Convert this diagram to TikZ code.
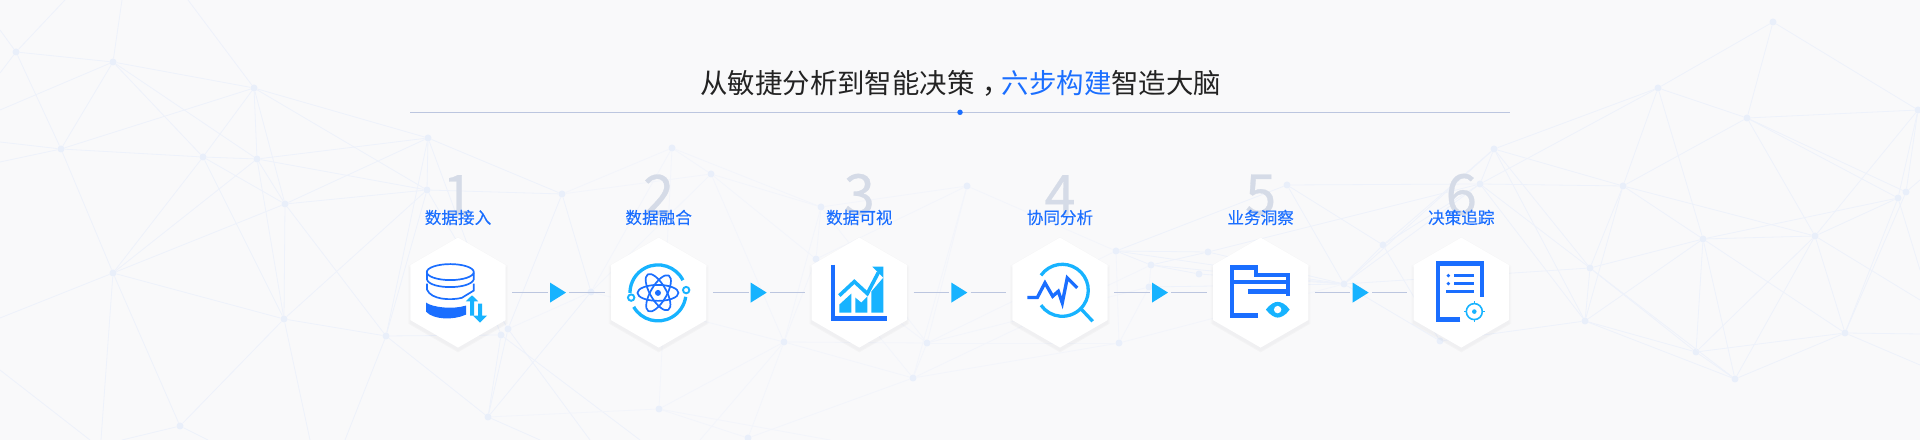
\documentclass[tikz,border=0pt]{standalone}
\usepackage{fontspec}
\usepackage{xcolor}
\usepackage{tikz}
\usetikzlibrary{positioning,shapes.geometric,shadows,calc}
\setmainfont{Noto Sans CJK SC}
\newfontfamily\numfont[FakeBold=.5]{Noto Sans CJK SC}
\newfontfamily\lblfont[FakeBold=.12]{Noto Sans CJK SC}
\definecolor{paper}{HTML}{F9F9FA}
\definecolor{deep}{HTML}{1A6EFF}
\definecolor{sky}{HTML}{17B3FF}
\definecolor{ink}{HTML}{232323}
\definecolor{rule}{HTML}{BCC6DF}
\definecolor{numc}{HTML}{D5DBE7}
\definecolor{webc}{HTML}{EEF2FB}
\definecolor{webp}{HTML}{F3F5FA}
\definecolor{dotc}{HTML}{E9EFFA}
\tikzset{
  hexbox/.style={regular polygon, regular polygon sides=6, shape border rotate=30, minimum size=110bp, inner sep=0bp, fill=white,
    general shadow={fill=black!70!blue, opacity=.012, shadow yshift=-2bp, shadow scale=1.05},
    general shadow={fill=black!70!blue, opacity=.012, shadow yshift=-3bp, shadow scale=1.03},
    general shadow={fill=black!70!blue, opacity=.012, shadow yshift=-3bp, shadow scale=1.01}},
  tri/.style={isosceles triangle, isosceles triangle apex angle=64, isosceles triangle stretches, minimum width=20bp, minimum height=16bp, inner sep=0bp, fill=sky},
  conn/.style={draw=rule, line width=1.8bp},
  stepnum/.style={font=\numfont\fontsize{56bp}{56bp}\selectfont, text=numc, inner sep=0bp},
  steplbl/.style={font=\lblfont\fontsize{16.6bp}{18bp}\selectfont, text=deep, inner sep=0bp},
  dot/.style={circle, fill=dotc, minimum size=7bp, inner sep=0bp},
  web/.style={draw=webc, line width=.8bp},
  webq/.style={draw=webp, line width=.8bp},
  blue/.style={draw=deep, line width=4.2bp},
  cyan/.style={draw=sky, line width=3.3bp}
}
\begin{document}
\begin{tikzpicture}[x=1bp,y=1bp]
\useasboundingbox[fill=paper] (0,0) rectangle (1920,440);
% background web
\begin{scope}[shift={(0,440)},yscale=-1]
\foreach \n/\x/\y in {A/16/52,B/113/62,C/254/88,D/61/149,E/203/157,F/257/159,G/285/204,H/428/138,I/427/190,J/562/194,K/113/273,L/284/319,M/386/336,N/501/335,O/508/329,P/591/292,Q/180/426,R/488/417,
  a/672/148,b/711/174,c/821/207,d/967/186,e/816/259,f/784/342,g/927/343,h/913/378,i/659/409,j/748/438,k/1116/251,l/1151/265,m/1208/252,n/1199/274,o/1149/287,p/1119/343,r/1287/185,s/1383/245,t/1344/284,w/1440/341,x/1480/184,y/1494/149,
  S1/1773/22,S2/1658/88,S3/1747/118,S4/1918/110,S7/1623/186,S8/1703/239,S9/1815/236,S10/1906/192,S11/1898/198,S12/1590/268,S13/1585/321,S14/1696/352,S15/1735/379,S16/1845/333}
  \node[dot] (\n) at (\x,\y) {};
\foreach \n/\x/\y in {e1/65/0,e2/0/30,e3/0/73,e4/122/0,e5/0/110,e6/188/0,e7/0/142,e8/0/162,e9/0/318,e10/101/440,e11/310/440,e12/345/440,e13/122/440,e14/208/440,e15/0/370,e16/90/440,e17/640/440,e18/590/440,e19/540/440,e20/1920/300,e21/1920/334,e22/1920/365,e23/1920/270,e24/1920/180,e25/830/440,e26/700/440}
  \coordinate (\n) at (\x,\y);
\foreach \p/\q in {A/e1,A/e2,A/e3,A/B,A/D,B/e4,B/C,B/D,B/e5,B/E,B/F,C/e6,C/D,C/E,C/F,C/G,C/H,C/I,D/e7,D/e8,D/E,D/K,E/F,E/G,E/K,E/L,F/G,F/I,F/H,F/K,F/L,G/H,G/I,G/K,G/L,G/M,H/I,H/J,H/M,H/N,I/J,I/L,I/M,I/O,K/e9,K/L,K/Q,K/e10,L/M,L/Q,L/e11,M/N,M/R,M/e12,Q/e13,Q/e14,e15/e16,
  J/O,J/P,N/R,O/R,P/R,N/e17,O/e18,R/e19,
  S1/S2,S1/S3,S1/S4,S2/S3,S2/y,S2/x,S2/S7,S2/S8,S3/S7,S3/S4,S3/S9,S3/S10,S3/S11,S4/S10,S4/S9,S4/S11,y/x,y/S7,y/S12,y/S13,x/S7,x/S12,x/S13,S7/S8,S7/S9,S7/S12,S7/S13,S8/S9,S8/S11,S8/S12,S8/S13,S8/S14,S8/S15,S8/S16,S9/S11,S9/S14,S9/S15,S9/S16,S9/e20,S10/S16,S11/S16,S12/S13,S12/S14,S12/S15,S13/S14,S13/S15,S14/S15,S14/S16,S15/S16,S16/e21,S16/e22,S11/e23,S10/e24,t/S12,w/S13,
  r/x,r/s,r/t,s/x,s/y,s/t,s/w,t/x,t/y,t/w,k/r,k/m,k/l,l/m,l/t,m/t,n/t,o/t,k/t,l/n,m/x}
  \draw[web] (\p) -- (\q);
\foreach \p/\q in {J/a,J/b,a/b,a/c,a/P,a/i,b/c,b/P,b/e,b/f,P/f,O/P,e/c,e/f,e/g,e/h,c/g,c/f,c/d,d/g,d/h,d/k,d/e,f/g,f/h,f/i,f/j,i/j,i/R,h/j,g/h,g/p,g/k,h/p,h/l,k/p,o/p,p/t,l/o,i/e25,f/e26,g/o}
  \draw[webq] (\p) -- (\q);
\end{scope}
% title
\node[font=\fontsize{27.4bp}{32bp}\selectfont, text=ink, inner sep=0bp] (title) at (960.8,357) {从敏捷分析到智能决策\hspace{.3em}，\hspace{-.3em}\textcolor{deep}{六步构建}智造大脑};
\coordinate (ruleL) at (410,327.7);
\coordinate (ruleR) at (1510,327.7);
\draw[draw=rule, line width=1bp] (ruleL) -- (ruleR);
\node[circle, fill=deep, minimum size=5.5bp, inner sep=0bp] (ruledot) at (960,327.7) {};
% steps
\node[hexbox] (hex1) at (458,147.4) {};
\node[tri, right=44bp of hex1] (tri1) {};
\node[hexbox, right=44.4bp of tri1] (hex2) {};
\node[tri, right=44bp of hex2] (tri2) {};
\node[hexbox, right=44.4bp of tri2] (hex3) {};
\node[tri, right=44bp of hex3] (tri3) {};
\node[hexbox, right=44.4bp of tri3] (hex4) {};
\node[tri, right=44bp of hex4] (tri4) {};
\node[hexbox, right=44.4bp of tri4] (hex5) {};
\node[tri, right=44bp of hex5] (tri5) {};
\node[hexbox, right=44.4bp of tri5] (hex6) {};
\foreach \i/\t in {1/数据接入,2/数据融合,3/数据可视,4/协同分析,5/业务洞察,6/决策追踪} {
  \node[stepnum, above=22bp of hex\i] (num\i) {\i};
  \node[steplbl, above=12bp of hex\i] (lbl\i) {\t};
}
\foreach \s/\t/\h in {1/1/2,2/2/3,3/3/4,4/4/5,5/5/6} {
  \draw[conn, shorten <=6.4bp, shorten >=2bp] (hex\s) -- (tri\t);
  \draw[conn, shorten <=3bp, shorten >=6bp] (tri\t) -- (hex\h);
}
% icon 1
\begin{scope}[shift={(hex1.center)},yscale=-1]
\draw[draw=deep, line width=1.7bp] (-7.7,-20.5) ellipse (23.5 and 8);
\draw[draw=deep, line width=1.7bp] (-31,-20) -- (-31,-13) .. controls (-28,-3) and (12,-3) .. (15.7,-13) -- (15.7,-20);
\draw[draw=deep, line width=1.7bp] (-31,-9) -- (-31,-3) .. controls (-27,7) and (-8,8) .. (3.7,5.3) -- (15.7,-2) -- (15.7,-9);
\fill[deep] (-32,10) .. controls (-25,15) and (-5,17) .. (8,13) -- (8,22) .. controls (-5,28) and (-25,27) .. (-32,19) -- cycle;
\fill[sky] (14,2.7) -- (20.2,8.7) -- (16,8.7) -- (16,23) -- (12,23) -- (12,8.7) -- (7.8,8.7) -- cycle;
\fill[sky] (20,11) -- (24,11) -- (24,23) -- (29,23) -- (22,30) -- (15,23) -- (20,23) -- cycle;
\end{scope}
% icon 2
\begin{scope}[shift={(hex2.center)},yscale=-1]
\foreach \a in {0,60,-60} \draw[draw=deep, line width=1.7bp, rotate=\a] (-.7,.3) ellipse (20.5 and 8);
\fill[deep] (-.7,.3) circle (3);
\draw[cyan] (-.7,.3) ++(-27:28) arc[start angle=-27, end angle=-180, radius=28];
\draw[cyan] (-.7,.3) ++(-210:28) arc[start angle=-210, end angle=-352, radius=28];
\draw[draw=sky, line width=1.9bp, fill=white] (-27.5,5) circle (3.2);
\draw[draw=sky, line width=1.9bp, fill=white] (27.5,-2.5) circle (3.2);
\end{scope}
% icon 3
\begin{scope}[shift={(hex3.center)},yscale=-1]
\draw[blue, line cap=butt] (-26,-28) -- (-26,26) -- (28,26);
\fill[sky] (-20,20) -- (-8,20) -- (-8,1) -- (-20,12) -- cycle;
\fill[sky] (-4,20) -- (8,20) -- (8,4) -- (2,10) -- (-4,5) -- cycle;
\fill[sky] (12,20) -- (24,20) -- (24,-15) -- (12,-1) -- cycle;
\draw[draw=sky, line width=3.6bp] (-20,3) -- (-5,-11) -- (8,1) -- (19,-20);
\fill[sky] (13,-26) -- (24,-26) -- (24,-15) -- cycle;
\end{scope}
% icon 4
\begin{scope}[shift={(hex4.center)},yscale=-1]
\draw[cyan] (2.3,-2.3) ++(-145:26) arc[start angle=-145, end angle=145, radius=26];
\draw[cyan] (21.7,17) -- (32.7,28.7);
\draw[draw=deep, line width=3.3bp] (-32.7,5) -- (-22.7,5) -- (-15,-9.7) -- (-7.3,3.7) -- (-1.7,-1.3) -- (2.3,10.3) -- (7.3,-14.7) -- (17.3,-4.7);
\end{scope}
% icon 5
\begin{scope}[shift={(hex5.center)},yscale=-1]
\draw[blue] (-2.7,23) -- (-29,23) -- (-29,-25) -- (-5,-25) -- (-5,-17.7) -- (27,-17.7) -- (27,3.7);
\draw[blue] (-29,-10.3) -- (27,-10.3);
\draw[blue] (-12.7,-1) -- (27,-1);
\fill[sky] (5.3,17) .. controls (10,11) and (14,9.3) .. (17,9.3) .. controls (20,9.3) and (25,11) .. (29,17) .. controls (25,23) and (20,25) .. (17,25) .. controls (14,25) and (10,23) .. (5.3,17) -- cycle;
\fill[white] (17,17) circle (3.7);
\end{scope}
% icon 6
\begin{scope}[shift={(hex6.center)},yscale=-1]
\draw[blue] (-1,27) -- (-23,27) -- (-23,-29) -- (21,-29) -- (21,4.7);
\foreach \y in {-17,-9} {
  \fill[deep] (-13,\y) circle (1.9);
  \draw[draw=deep, line width=3.8bp] (-7,\y) -- (13,\y);
}
\draw[draw=deep, line width=3.8bp] (-15,-1) -- (13,-1);
\draw[draw=sky, line width=1.6bp] (13,19) circle (8);
\fill[sky] (13,19) circle (2.3);
\foreach \a in {0,90,180,270} \draw[draw=sky, line width=1.6bp] (13,19) ++(\a:8) -- ++(\a:2.2);
\end{scope}
\end{tikzpicture}
\end{document}
